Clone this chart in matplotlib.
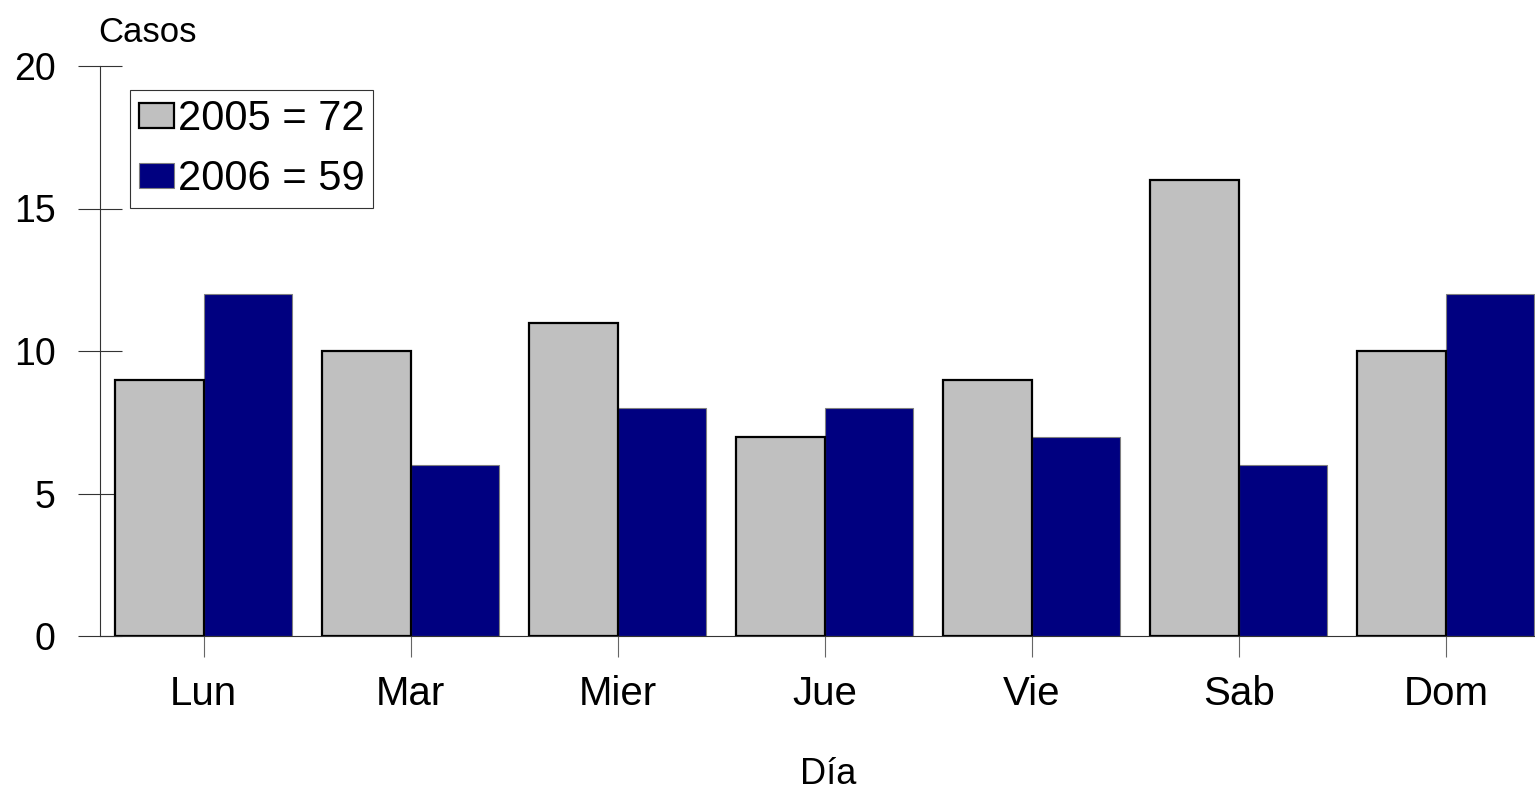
import numpy as np
import matplotlib
matplotlib.use("Agg")
import matplotlib.pyplot as plt

# datos
dias = ["Lun", "Mar", "Mier", "Jue", "Vie", "Sab", "Dom"]
casos_2005 = [9, 10, 11, 7, 9, 16, 10]
casos_2006 = [12, 6, 8, 8, 7, 6, 12]
etiquetas = ["2005 = 72", "2006 = 59"]

plt.rcParams['font.family'] = ['Liberation Sans', 'DejaVu Sans']
narrow = ['Liberation Sans Narrow', 'Liberation Sans', 'DejaVu Sans']

fig = plt.figure(figsize=(15.35, 7.9), dpi=100)
ax = fig.add_axes([100 / 1535, 1 - 636 / 790, 1 - 100 / 1535, (636 - 66) / 790])

x = np.arange(len(dias))
w = 0.4275
ax.bar(x + w / 2, casos_2006, w, color='#000080', edgecolor='#808080',
       linewidth=0.8, label=etiquetas[1], zorder=2)
ax.bar(x - w / 2, casos_2005, w, color='#C0C0C0', edgecolor='black',
       linewidth=1.6, label=etiquetas[0], zorder=3)

ax.set_xlim(-0.5, 6.43)
ax.set_ylim(0, 20)
ax.set_yticks([0, 5, 10, 15, 20])
ax.set_xticks(x)
ax.set_xticklabels(dias)

for s in ['top', 'right']:
    ax.spines[s].set_visible(False)
for s in ['left', 'bottom']:
    ax.spines[s].set_color('#333333')
    ax.spines[s].set_linewidth(0.8)

ax.tick_params(axis='y', direction='inout', length=31.7, width=0.8,
               color='#333333', labelsize=27, pad=16)
ax.tick_params(axis='x', direction='out', length=15, width=0.8,
               color='#666666', labelsize=29, pad=13)

fig.text(148 / 1535, 1 - 32 / 790, "Casos", ha='center', va='center',
         fontsize=25, family=narrow)
fig.text(828 / 1535, 1 - 775 / 790, "Día", ha='center', va='center',
         fontsize=26, family=narrow)

h, l = ax.get_legend_handles_labels()
leg = ax.legend([h[1], h[0]], [l[1], l[0]], loc='upper left',
                bbox_to_anchor=(30 / 1435, 1 - 24 / 570), fontsize=30,
                fancybox=False, framealpha=1, edgecolor='#333333',
                handlelength=0.84, handleheight=0.58, handletextpad=0.08,
                borderpad=0.22, labelspacing=0.48, borderaxespad=0)
leg.get_frame().set_linewidth(0.8)

fig.savefig("out.png", dpi=100)
